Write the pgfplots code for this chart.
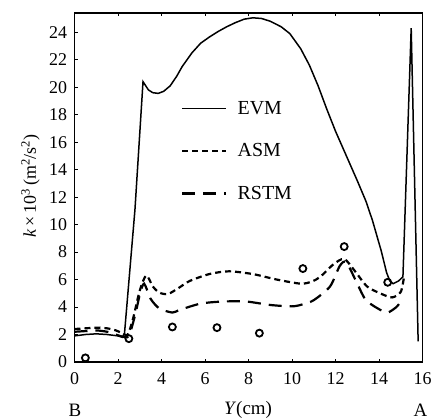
\documentclass[border=0pt]{standalone}
\usepackage{fontspec}
\setmainfont{Liberation Serif}
\usepackage{pgfplots}
\pgfplotsset{compat=1.18}

\begin{document}
\begin{tikzpicture}
\useasboundingbox (-74.5bp,-58bp) rectangle (362.5bp,362bp);
\begin{axis}[
  scale only axis,
  width=348bp, height=349bp,
  xmin=0, xmax=16, ymin=0, ymax=25.4,
  xtick={0,2,...,16}, ytick={0,2,...,24},
  xtick pos=both, ytick pos=left,
  tick align=inside,
  major tick length=3bp,
  every tick/.style={black, line width=1pt},
  axis line style={line width=1.6bp},
  /pgf/number format/assume math mode=true,
  tick label style={font=\fontsize{18}{18}\selectfont},
  xticklabel style={yshift=-7bp},
  yticklabel style={xshift=-4bp},
  legend cell align=left,
  legend style={draw=none, fill=none, at={(axis cs:4.75,19.3)}, anchor=north west,
    font=\fontsize{20}{22}\selectfont, row sep=24bp},
  legend image code/.code={\draw[#1] (0cm,0cm) -- (1.55cm,0cm); \path (1.85cm,0cm);},
  clip=false,
]
\addplot[black, line width=1.5bp] coordinates {
(0,1.9) (0.5,2.0) (1,2.05) (1.5,2.0) (2,1.9) (2.2,1.8) (2.3,2.1) (2.78,11.1) (3.15,20.4)
(3.4,19.8) (3.6,19.6) (3.85,19.55) (4.1,19.7) (4.4,20.1) (4.7,20.8) (4.95,21.5) (5.4,22.5)
(5.8,23.2) (6.2,23.65) (6.6,24.05) (7.0,24.4) (7.4,24.7) (7.8,24.95) (8.2,25.05) (8.6,25.0)
(9.0,24.8) (9.5,24.4) (9.9,23.9) (10.4,22.8) (10.8,21.6) (11.2,20.1) (11.6,18.4) (12.0,16.8)
(12.5,15.0) (13.0,13.2) (13.4,11.7) (13.7,10.3) (14.1,8.1) (14.35,6.5) (14.5,5.9) (14.65,5.7)
(14.9,5.9) (15.1,6.2) (15.48,24.3) (15.8,1.5)};
\addlegendentry{EVM}
\addplot[black, line width=2.2bp, dash pattern=on 6bp off 4bp, smooth, tension=0.45] coordinates {
(0,2.4) (0.5,2.45) (1,2.5) (1.5,2.45) (1.9,2.3) (2.2,2.1) (2.45,2.0) (2.7,3.2) (3.0,5.2)
(3.3,6.3) (3.6,5.5) (3.9,5.05) (4.3,4.95) (4.8,5.4) (5.3,5.9) (6.2,6.4) (7.1,6.6) (8.2,6.4)
(9.3,6.0) (10.4,5.7) (10.9,5.85) (11.3,6.2) (11.9,7.1) (12.4,7.5) (12.9,6.6) (13.45,5.5)
(14.05,5.0) (14.6,4.7) (15.0,5.1) (15.15,6.2)};
\addlegendentry{ASM}
\addplot[black, line width=2.2bp, dash pattern=on 13bp off 8bp, smooth, tension=0.45] coordinates {
(0,2.2) (0.5,2.25) (1,2.3) (1.5,2.2) (1.9,2.0) (2.2,1.85) (2.5,1.9) (2.8,3.5) (3.0,4.9)
(3.2,5.7) (3.5,4.6) (3.9,3.9) (4.5,3.6) (4.85,3.8) (5.8,4.25) (6.8,4.4) (7.9,4.4) (9.0,4.15)
(10.0,4.05) (10.5,4.2) (11.0,4.5) (11.75,5.5) (12.2,7.0) (12.5,7.25) (13.0,5.7) (13.4,4.5)
(14.05,3.8) (14.4,3.6) (14.8,4.0) (15.05,4.5)};
\addlegendentry{RSTM}
\addplot[only marks, mark=o, mark size=3.5bp, mark options={line width=1.8bp, black}] coordinates {
(0.5,0.3) (2.5,1.7) (4.5,2.55) (6.55,2.5) (8.5,2.1) (10.5,6.8) (12.4,8.4) (14.4,5.8)};
\end{axis}
\node[rotate=90, font=\fontsize{18}{18}\selectfont] at (-44bp,176bp)
  {\textit{k}\,×\,10\textsuperscript{3}\,(m\textsuperscript{2}/s\textsuperscript{2})};
\node[font=\fontsize{19}{19}\selectfont] at (173.5bp,-48bp) {\textit{Y}(cm)};
\node[font=\fontsize{19}{19}\selectfont] at (0.5bp,-48bp) {B};
\node[font=\fontsize{19}{19}\selectfont] at (346bp,-48bp) {A};
\end{tikzpicture}
\end{document}
